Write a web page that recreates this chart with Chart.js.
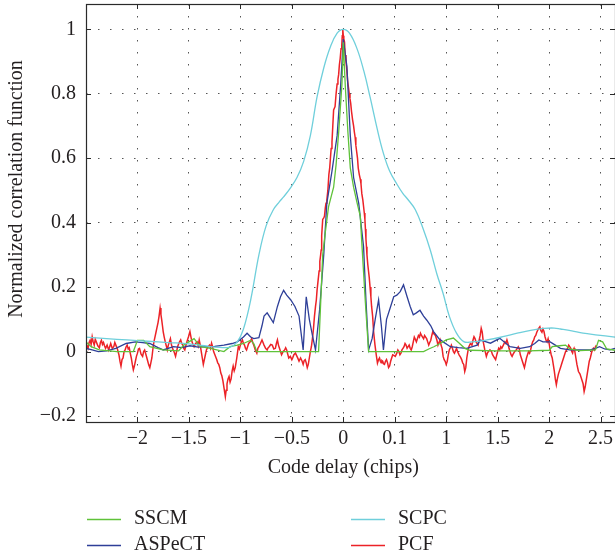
<!DOCTYPE html>
<html>
<head>
<meta charset="utf-8">
<script src="https://cdn.jsdelivr.net/npm/chart.js@4.4.1/dist/chart.umd.min.js"></script>
<style>
  html, body { margin: 0; padding: 0; background: #fff; }
  #wrap { width: 615px; height: 559px; }
</style>
</head>
<body>
<div id="wrap"><canvas id="chart" width="615" height="559"></canvas></div>
<script>
// tick labels (the original figure prints "0.1" at 0.5)
const xTickValues = [-2, -1.5, -1, -0.5, 0, 0.5, 1, 1.5, 2, 2.5];
const xTickLabels = ['−2', '−1.5', '−1', '−0.5', '0', '0.1', '1', '1.5', '2', '2.5'];
const yTickValues = [-0.2, 0, 0.2, 0.4, 0.6, 0.8, 1];
const yTickLabels = ['−0.2', '0', '0.2', '0.4', '0.6', '0.8', '1'];

// SCPC
const scpcX = [-2.5, -2.3, -2.1, -1.9, -1.7, -1.5, -1.35, -1.2, -1.1, -1.03, -0.97, -0.9, -0.82, -0.75, -0.68, -0.62, -0.58, -0.52, -0.45, -0.385, -0.32, -0.255, -0.19, -0.126, -0.06, 0, 0.06, 0.133, 0.2, 0.26, 0.33, 0.39, 0.45, 0.52, 0.58, 0.62, 0.7, 0.78, 0.845, 0.91, 0.97, 1.03, 1.1, 1.17, 1.25, 1.395, 1.55, 1.69, 1.82, 1.95, 2.05, 2.11, 2.22, 2.33, 2.45, 2.64];
const scpcY = [0.045, 0.04, 0.036, 0.032, 0.028, 0.024, 0.018, 0.013, 0.014, 0.03, 0.07, 0.16, 0.3, 0.39, 0.44, 0.465, 0.48, 0.505, 0.54, 0.59, 0.67, 0.79, 0.88, 0.945, 0.988, 1.0, 0.988, 0.94, 0.87, 0.79, 0.69, 0.615, 0.56, 0.52, 0.49, 0.475, 0.44, 0.377, 0.315, 0.24, 0.18, 0.11, 0.057, 0.031, 0.03, 0.036, 0.046, 0.057, 0.066, 0.072, 0.073, 0.07, 0.064, 0.057, 0.052, 0.045];

// SSCM
const sscmX = [-2.5, -2.45, -2.37, -2.2, -2.04, -2.0, -1.94, -1.88, -1.75, -1.6, -1.55, -1.45, -1.39, -1.29, -1.16, -1.1, -1.03, -0.97, -0.9, -0.87, -0.84, -0.6, -0.4, -0.24, -0.2, -0.175, -0.143, -0.094, -0.07, -0.045, -0.013, 0, 0.02, 0.045, 0.068, 0.1, 0.135, 0.165, 0.185, 0.215, 0.246, 0.5, 0.78, 0.83, 0.88, 0.94, 1.0, 1.07, 1.13, 1.18, 1.23, 1.5, 1.8, 2.0, 2.03, 2.1, 2.16, 2.2, 2.3, 2.45, 2.48, 2.52, 2.56, 2.64];
const sscmY = [0.03, 0.015, 0.005, 0, 0, 0.035, 0.035, 0.015, 0.005, 0.002, 0.02, 0.04, 0.015, 0.01, 0, 0.015, 0.02, 0.025, 0.035, 0.025, 0, 0, 0, 0, 0.3, 0.37, 0.45, 0.51, 0.58, 0.68, 0.83, 0.96, 0.82, 0.68, 0.57, 0.51, 0.46, 0.42, 0.31, 0.15, 0, 0, 0, 0.008, 0.015, 0.025, 0.036, 0.042, 0.025, 0.01, 0.004, 0.002, 0.002, 0.004, 0.015, 0.018, 0.02, 0.008, 0.003, 0.005, 0.035, 0.03, 0.008, 0.004];

// ASPeCT
const aspectX = [-2.5, -2.44, -2.38, -2.3, -2.21, -2.11, -2.02, -1.95, -1.88, -1.8, -1.75, -1.65, -1.57, -1.49, -1.41, -1.33, -1.25, -1.16, -1.08, -1.03, -0.97, -0.935, -0.9, -0.87, -0.82, -0.79, -0.77, -0.74, -0.71, -0.68, -0.64, -0.61, -0.58, -0.55, -0.51, -0.47, -0.43, -0.39, -0.36, -0.33, -0.3, -0.27, -0.23, -0.19, -0.16, -0.11, -0.06, -0.025, 0, 0.035, 0.068, 0.1, 0.15, 0.197, 0.22, 0.246, 0.28, 0.31, 0.343, 0.37, 0.39, 0.42, 0.46, 0.49, 0.52, 0.553, 0.585, 0.62, 0.65, 0.68, 0.71, 0.745, 0.78, 0.81, 0.85, 0.877, 0.93, 0.97, 1.04, 1.12, 1.2, 1.3, 1.33, 1.43, 1.52, 1.62, 1.72, 1.81, 1.86, 1.9, 1.94, 2.01, 2.06, 2.11, 2.2, 2.3, 2.4, 2.45, 2.49, 2.54, 2.59, 2.64];
const aspectY = [0.01, 0.005, 0.0, 0.002, 0.01, 0.025, 0.03, 0.028, 0.025, 0.012, 0.005, 0.015, 0.012, 0.018, 0.014, 0.015, 0.016, 0.02, 0.025, 0.03, 0.045, 0.057, 0.045, 0.04, 0.043, 0.08, 0.11, 0.12, 0.105, 0.09, 0.14, 0.17, 0.19, 0.175, 0.16, 0.14, 0.11, 0.005, 0.17, 0.1, 0.05, 0.005, 0.13, 0.3, 0.46, 0.56, 0.67, 0.83, 0.97, 0.885, 0.67, 0.54, 0.46, 0.325, 0.16, 0.005, 0.04, 0.1, 0.16, 0.08, 0.005, 0.1, 0.14, 0.17, 0.175, 0.186, 0.207, 0.17, 0.14, 0.114, 0.12, 0.128, 0.11, 0.098, 0.08, 0.062, 0.04, 0.03, 0.015, 0.012, 0.01, 0.02, 0.036, 0.026, 0.041, 0.015, 0.01, 0.015, 0.025, 0.036, 0.03, 0.03, 0.02, 0.01, 0.005, 0.005, 0.005, 0.01, 0.015, 0.008, 0.005, 0.01];

// PCF
const pcfX = [-2.5, -2.49, -2.48, -2.47, -2.46, -2.45, -2.44, -2.43, -2.42, -2.41, -2.4, -2.385, -2.37, -2.36, -2.35, -2.34, -2.33, -2.32, -2.31, -2.295, -2.28, -2.27, -2.26, -2.245, -2.23, -2.22, -2.21, -2.195, -2.18, -2.17, -2.16, -2.15, -2.14, -2.13, -2.12, -2.11, -2.1, -2.09, -2.08, -2.07, -2.06, -2.05, -2.04, -2.03, -2.02, -2.01, -2.0, -1.99, -1.98, -1.965, -1.95, -1.94, -1.93, -1.915, -1.9, -1.89, -1.88, -1.87, -1.86, -1.85, -1.84, -1.83, -1.82, -1.81, -1.8, -1.79, -1.78, -1.772, -1.765, -1.757, -1.75, -1.74, -1.73, -1.72, -1.71, -1.7, -1.69, -1.68, -1.67, -1.66, -1.645, -1.63, -1.62, -1.61, -1.595, -1.58, -1.57, -1.56, -1.55, -1.54, -1.53, -1.52, -1.505, -1.49, -1.48, -1.47, -1.46, -1.45, -1.435, -1.42, -1.41, -1.4, -1.39, -1.38, -1.37, -1.36, -1.35, -1.34, -1.33, -1.315, -1.3, -1.29, -1.28, -1.27, -1.26, -1.245, -1.23, -1.22, -1.21, -1.2, -1.19, -1.18, -1.17, -1.158, -1.146, -1.138, -1.13, -1.12, -1.11, -1.1, -1.09, -1.08, -1.07, -1.06, -1.05, -1.035, -1.02, -1.01, -1.0, -0.99, -0.98, -0.97, -0.96, -0.95, -0.94, -0.93, -0.92, -0.905, -0.89, -0.88, -0.87, -0.855, -0.84, -0.83, -0.82, -0.805, -0.79, -0.78, -0.77, -0.755, -0.74, -0.73, -0.72, -0.705, -0.69, -0.675, -0.66, -0.65, -0.64, -0.63, -0.62, -0.61, -0.6, -0.585, -0.57, -0.56, -0.55, -0.54, -0.53, -0.515, -0.5, -0.49, -0.48, -0.465, -0.45, -0.44, -0.43, -0.415, -0.4, -0.39, -0.38, -0.37, -0.36, -0.35, -0.34, -0.33, -0.32, -0.31, -0.3, -0.29, -0.28, -0.27, -0.262, -0.255, -0.245, -0.235, -0.228, -0.22, -0.215, -0.21, -0.2, -0.19, -0.183, -0.175, -0.168, -0.16, -0.15, -0.14, -0.132, -0.125, -0.118, -0.11, -0.102, -0.094, -0.087, -0.08, -0.07, -0.06, -0.052, -0.045, -0.038, -0.03, -0.022, -0.015, -0.01, -0.005, 0.0, 0.005, 0.012, 0.018, 0.026, 0.035, 0.042, 0.05, 0.058, 0.065, 0.072, 0.08, 0.09, 0.1, 0.108, 0.115, 0.122, 0.13, 0.138, 0.145, 0.155, 0.165, 0.172, 0.18, 0.19, 0.197, 0.204, 0.21, 0.215, 0.22, 0.225, 0.23, 0.238, 0.245, 0.252, 0.26, 0.268, 0.275, 0.285, 0.295, 0.308, 0.32, 0.332, 0.343, 0.352, 0.36, 0.368, 0.375, 0.383, 0.39, 0.4, 0.41, 0.42, 0.43, 0.44, 0.45, 0.46, 0.47, 0.48, 0.49, 0.505, 0.52, 0.53, 0.54, 0.55, 0.56, 0.57, 0.58, 0.59, 0.6, 0.61, 0.62, 0.63, 0.64, 0.65, 0.66, 0.67, 0.68, 0.69, 0.7, 0.71, 0.72, 0.73, 0.74, 0.75, 0.76, 0.77, 0.78, 0.79, 0.8, 0.81, 0.82, 0.83, 0.84, 0.85, 0.86, 0.87, 0.88, 0.895, 0.91, 0.92, 0.93, 0.94, 0.95, 0.96, 0.97, 0.98, 0.99, 1.0, 1.01, 1.02, 1.03, 1.04, 1.05, 1.06, 1.07, 1.08, 1.09, 1.1, 1.11, 1.125, 1.14, 1.15, 1.16, 1.17, 1.18, 1.19, 1.2, 1.21, 1.22, 1.235, 1.25, 1.26, 1.27, 1.28, 1.29, 1.3, 1.31, 1.32, 1.33, 1.34, 1.35, 1.36, 1.375, 1.39, 1.4, 1.41, 1.425, 1.44, 1.45, 1.46, 1.47, 1.48, 1.49, 1.5, 1.51, 1.52, 1.53, 1.54, 1.555, 1.57, 1.58, 1.59, 1.6, 1.61, 1.62, 1.63, 1.64, 1.65, 1.665, 1.68, 1.69, 1.7, 1.71, 1.72, 1.73, 1.74, 1.75, 1.76, 1.77, 1.78, 1.79, 1.8, 1.81, 1.82, 1.83, 1.84, 1.85, 1.86, 1.87, 1.88, 1.895, 1.91, 1.92, 1.93, 1.94, 1.95, 1.96, 1.97, 1.98, 1.99, 2.0, 2.01, 2.02, 2.03, 2.04, 2.05, 2.06, 2.07, 2.08, 2.09, 2.1, 2.11, 2.125, 2.14, 2.15, 2.16, 2.17, 2.18, 2.19, 2.2, 2.21, 2.22, 2.228, 2.235, 2.242, 2.25, 2.26, 2.27, 2.285, 2.3, 2.31, 2.32, 2.33, 2.34, 2.35, 2.36, 2.37, 2.38, 2.39, 2.4, 2.415, 2.43, 2.44, 2.45, 2.46, 2.47, 2.48, 2.49, 2.5, 2.51, 2.52, 2.53, 2.54, 2.548, 2.555, 2.563, 2.57, 2.58, 2.59, 2.6, 2.61, 2.62, 2.63, 2.64];
const pcfY = [0.026, 0.018, 0.01, 0.028, 0.035, 0.022, 0.046, 0.03, 0.02, 0.038, 0.03, 0.018, 0.012, 0.028, 0.035, 0.022, 0.028, 0.018, 0.01, 0.02, 0.005, 0.015, 0.025, 0.01, 0.015, 0.028, 0.02, 0.008, -0.01, -0.03, -0.045, -0.025, -0.02, 0.0, 0.005, 0.015, 0.02, 0.008, 0.012, -0.005, -0.02, -0.04, -0.057, -0.045, -0.03, -0.015, -0.005, 0.008, 0.01, -0.008, -0.015, 0.0, 0.005, -0.012, -0.03, -0.042, -0.05, -0.035, -0.02, 0.008, 0.03, 0.045, 0.06, 0.075, 0.09, 0.11, 0.135, 0.115, 0.1, 0.08, 0.062, 0.045, 0.03, 0.018, 0.005, 0.02, 0.03, 0.04, 0.022, 0.01, 0.0, -0.015, 0.0, 0.015, 0.028, 0.036, 0.025, 0.02, 0.01, 0.005, 0.018, 0.03, 0.045, 0.062, 0.045, 0.03, 0.022, 0.015, 0.025, 0.03, 0.018, 0.036, 0.02, 0.0, -0.02, -0.04, -0.025, -0.01, 0.005, 0.015, 0.02, 0.01, 0.026, 0.015, 0.0, -0.012, -0.025, -0.035, -0.04, -0.05, -0.067, -0.075, -0.09, -0.115, -0.14, -0.12, -0.1, -0.085, -0.077, -0.095, -0.085, -0.06, -0.045, -0.06, -0.05, -0.02, 0.015, 0.008, 0.02, 0.03, 0.036, 0.025, 0.02, 0.01, 0.005, 0.015, 0.025, 0.03, 0.04, 0.028, 0.02, 0.005, -0.005, 0.01, 0.015, 0.025, 0.036, 0.028, 0.02, 0.01, 0.005, 0.012, 0.015, 0.022, 0.02, 0.008, 0.01, 0.025, 0.036, 0.02, 0.01, 0.0, -0.01, 0.0, 0.005, 0.012, 0.005, -0.008, -0.02, -0.015, -0.025, -0.018, -0.01, -0.005, -0.015, -0.022, -0.03, -0.02, -0.03, -0.04, -0.028, -0.025, -0.035, -0.05, -0.04, -0.02, 0.0, 0.015, 0.04, 0.07, 0.11, 0.14, 0.16, 0.19, 0.22, 0.25, 0.28, 0.3, 0.315, 0.36, 0.41, 0.415, 0.42, 0.445, 0.46, 0.47, 0.5, 0.55, 0.57, 0.6, 0.63, 0.65, 0.7, 0.75, 0.755, 0.76, 0.8, 0.83, 0.845, 0.86, 0.89, 0.91, 0.94, 0.95, 0.98, 1.0, 0.98, 0.97, 0.96, 0.92, 0.9, 0.87, 0.84, 0.82, 0.8, 0.785, 0.77, 0.745, 0.72, 0.7, 0.68, 0.665, 0.64, 0.62, 0.6, 0.57, 0.55, 0.535, 0.52, 0.49, 0.47, 0.45, 0.43, 0.41, 0.38, 0.35, 0.325, 0.3, 0.27, 0.25, 0.23, 0.2, 0.17, 0.14, 0.11, 0.06, 0.02, -0.01, -0.036, -0.025, -0.02, -0.03, -0.035, -0.028, -0.03, -0.038, -0.04, -0.03, -0.025, -0.035, -0.05, -0.045, -0.03, -0.02, -0.01, -0.012, -0.015, -0.005, 0.005, 0.0, -0.01, -0.005, 0.005, 0.01, 0.015, 0.025, 0.02, 0.01, 0.015, 0.02, 0.01, 0.005, 0.015, 0.03, 0.045, 0.038, 0.03, 0.04, 0.05, 0.045, 0.057, 0.05, 0.045, 0.04, 0.05, 0.045, 0.04, 0.03, 0.02, 0.028, 0.035, 0.05, 0.062, 0.055, 0.05, 0.035, 0.02, 0.028, 0.036, 0.02, 0.01, -0.015, -0.025, -0.03, -0.04, -0.03, -0.01, 0.005, 0.012, 0.02, 0.01, 0.0, -0.005, 0.002, 0.01, 0.0, -0.01, -0.018, -0.025, -0.035, -0.04, -0.062, -0.05, -0.02, 0.0, 0.015, 0.025, 0.02, 0.035, 0.046, 0.04, 0.03, 0.025, 0.02, 0.035, 0.05, 0.072, 0.06, 0.03, 0.005, -0.015, -0.005, 0.0, 0.005, 0.0, -0.01, -0.015, -0.02, -0.025, -0.012, 0.0, 0.01, 0.005, 0.015, 0.01, 0.02, 0.03, 0.025, 0.036, 0.025, 0.01, 0.0, -0.01, -0.015, -0.008, 0.0, 0.005, 0.01, 0.015, 0.008, -0.01, -0.02, -0.03, -0.04, -0.05, -0.035, -0.02, -0.01, 0.0, -0.005, 0.005, 0.02, 0.03, 0.035, 0.046, 0.05, 0.06, 0.07, 0.077, 0.065, 0.06, 0.07, 0.062, 0.046, 0.035, 0.03, 0.04, 0.025, 0.005, -0.01, -0.02, -0.04, -0.06, -0.085, -0.103, -0.085, -0.07, -0.06, -0.05, -0.035, -0.02, -0.01, 0.0, 0.005, 0.012, 0.02, 0.015, 0.01, 0.0, -0.005, 0.005, 0.01, 0.0, -0.02, -0.04, -0.062, -0.07, -0.08, -0.09, -0.1, -0.124, -0.11, -0.09, -0.07, -0.05, -0.03, -0.02, 0.0, 0.01, 0.005, 0.015, 0.02];

const FONT = "'Liberation Serif', 'DejaVu Serif', serif";
const TEXT = '#231f20';

function pts(xs, ys) {
  return xs.map((x, i) => ({ x: x, y: ys[i] }));
}

const datasets = [
  { label: 'SCPC', data: pts(scpcX, scpcY), borderColor: '#6fcfdb', borderWidth: 1.3, tension: 0.4 },
  { label: 'SSCM', data: pts(sscmX, sscmY), borderColor: '#5fc23a', borderWidth: 1.3, tension: 0 },
  { label: 'ASPeCT', data: pts(aspectX, aspectY), borderColor: '#2e3f98', borderWidth: 1.3, tension: 0 },
  { label: 'PCF', data: pts(pcfX, pcfY), borderColor: '#ec2227', borderWidth: 1.5, tension: 0 }
];

// legend slots: [label, column x, row y]
const legendSlots = [['SSCM', 87, 519], ['ASPeCT', 87, 545], ['SCPC', 351, 519], ['PCF', 351, 545]];

const frame = {
  id: 'frame',
  afterDraw(chart) {
    const ctx = chart.ctx;
    const a = chart.chartArea;
    const xs = chart.scales.x, ys = chart.scales.y;
    ctx.save();
    ctx.strokeStyle = '#2a2a2a';
    ctx.lineWidth = 1.2;
    ctx.strokeRect(a.left + 0.5, a.top + 0.5, a.right - a.left, a.bottom - a.top);
    ctx.lineWidth = 1;
    ctx.beginPath();
    xTickValues.forEach(v => {
      const p = Math.round(xs.getPixelForValue(v)) + 0.5;
      ctx.moveTo(p, a.bottom); ctx.lineTo(p, a.bottom - 5);
      ctx.moveTo(p, a.top); ctx.lineTo(p, a.top + 5);
    });
    yTickValues.forEach(v => {
      const p = Math.round(ys.getPixelForValue(v)) + 0.5;
      ctx.moveTo(a.left, p); ctx.lineTo(a.left + 5, p);
      ctx.moveTo(a.right, p); ctx.lineTo(a.right - 5, p);
    });
    ctx.stroke();

    ctx.fillStyle = TEXT;
    ctx.font = '20px ' + FONT;
    ctx.textAlign = 'center';
    ctx.textBaseline = 'middle';

    // x axis title, centred under the zero delay tick as in the figure
    ctx.fillText('Code delay (chips)', xs.getPixelForValue(0), 468);

    // y axis title
    ctx.translate(17, 189);
    ctx.rotate(-Math.PI / 2);
    ctx.fillText('Normalized correlation function', 0, 0);
    ctx.setTransform(1, 0, 0, 1, 0, 0);

    // legend
    ctx.textAlign = 'left';
    legendSlots.forEach(([label, lx, ly]) => {
      const ds = chart.data.datasets.find(d => d.label === label);
      ctx.strokeStyle = ds.borderColor;
      ctx.lineWidth = 1.5;
      ctx.beginPath();
      ctx.moveTo(lx, ly + 0.5); ctx.lineTo(lx + 34, ly + 0.5);
      ctx.stroke();
      ctx.fillText(label, lx + 47, ly);
    });
    ctx.restore();
  }
};

new Chart(document.getElementById('chart').getContext('2d'), {
  type: 'line',
  data: { datasets: datasets },
  options: {
    responsive: false,
    devicePixelRatio: 1,
    animation: false,
    parsing: false,
    layout: { padding: { top: 4, right: 0, left: 0, bottom: 79 } },
    elements: { point: { radius: 0 } },
    plugins: { legend: { display: false }, tooltip: { enabled: false } },
    scales: {
      x: {
        type: 'linear',
        min: -2.5,
        max: 2.64,
        afterBuildTicks: s => { s.ticks = xTickValues.map(v => ({ value: v })); },
        afterFit: s => { s.height = 58; s.paddingLeft = 0; s.paddingRight = 0; },
        ticks: {
          autoSkip: false, maxRotation: 0, padding: 5, color: TEXT,
          font: { family: FONT, size: 20 },
          callback: (v, i) => xTickLabels[i]
        },
        grid: { color: '#555', lineWidth: 1, drawTicks: false },
        border: { display: false, dash: [1.5, 10.5] }
      },
      y: {
        type: 'linear',
        min: -0.2186,
        max: 1.0785,
        afterBuildTicks: s => { s.ticks = yTickValues.map(v => ({ value: v })); },
        afterFit: s => { s.width = 86; s.paddingTop = 0; s.paddingBottom = 0; },
        ticks: {
          padding: 10, color: TEXT,
          font: { family: FONT, size: 20 },
          callback: (v, i) => yTickLabels[i]
        },
        grid: { color: '#555', lineWidth: 1, drawTicks: false },
        border: { display: false, dash: [1.5, 10.5] }
      }
    }
  },
  plugins: [frame]
});
</script>
</body>
</html>
